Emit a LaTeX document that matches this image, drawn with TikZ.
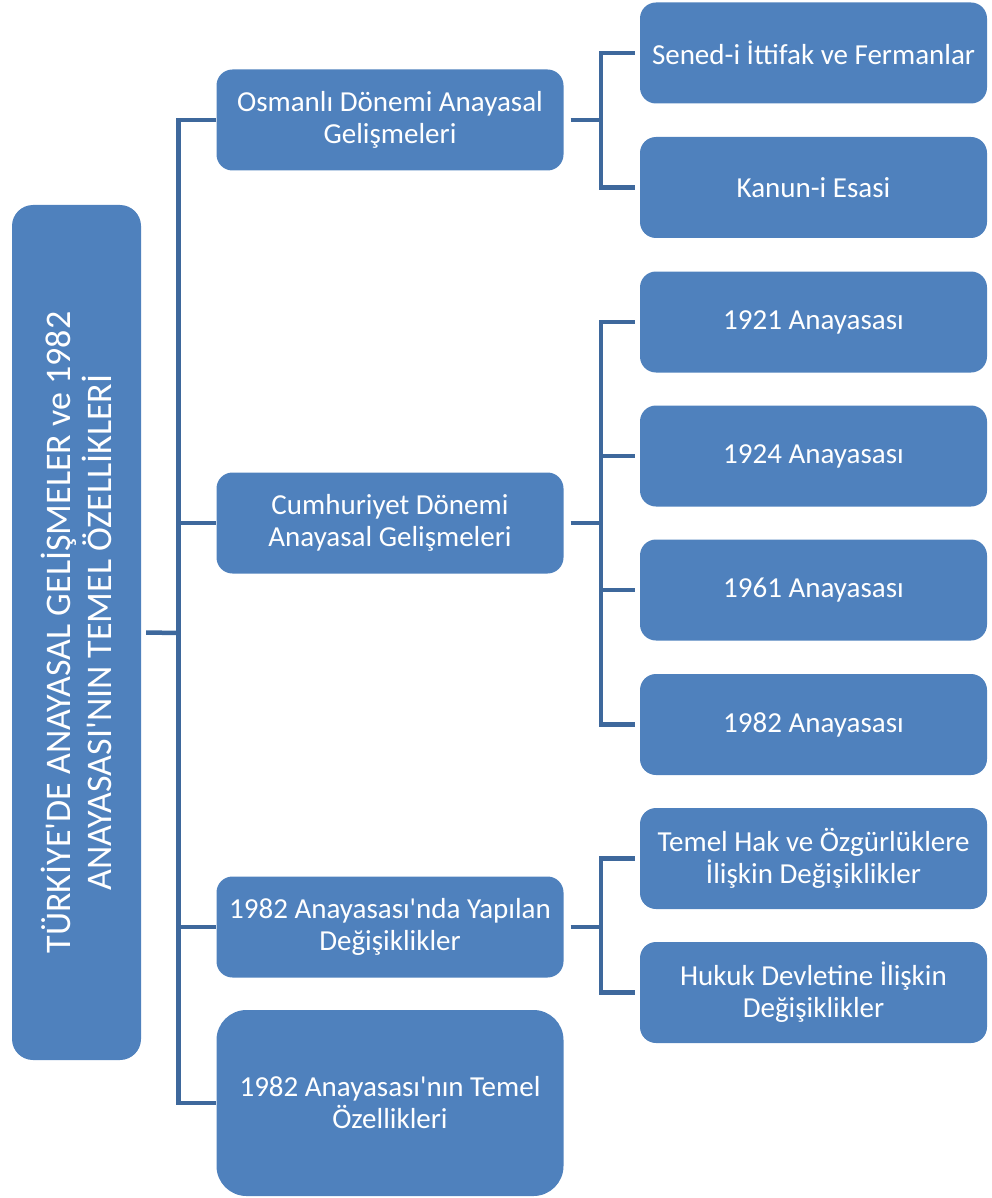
\documentclass[tikz,border=0pt]{standalone}
\usepackage{fontspec}
\setmainfont{Carlito}
\definecolor{boxblue}{RGB}{79,129,189}
\definecolor{linkblue}{RGB}{62,104,156}
\begin{document}
\begin{tikzpicture}[x=1pt,y=-1pt,
  box/.style={draw=none,fill=boxblue,text=white,align=center,inner sep=0pt,
    minimum width=347pt,minimum height=101pt,rounded corners=16pt,
    font=\fontsize{29}{32}\selectfont},
  conn/.style={draw=linkblue,line width=4.5pt,line join=miter}]
\useasboundingbox (0,0) rectangle (991,1198);
% root
\node[box,rotate=90,minimum width=855pt,minimum height=129pt,rounded corners=21pt,
  font=\fontsize{36}{41}\selectfont] (root) at (76.5,632.5)
  {TÜRKİYE\textquotesingle DE ANAYASAL GELİŞMELER ve 1982\\ANAYASASI\textquotesingle NIN TEMEL ÖZELLİKLERİ};
% level 1
\node[box] (l1) at (390,120) {Osmanlı Dönemi Anayasal\\Gelişmeleri};
\node[box] (l2) at (390,523) {Cumhuriyet Dönemi\\Anayasal Gelişmeleri};
\node[box] (l3) at (390,927) {1982 Anayasası\textquotesingle nda Yapılan\\Değişiklikler};
\node[box,minimum height=186pt,rounded corners=30pt] (l4) at (390,1103) {1982 Anayasası\textquotesingle nın Temel\\Özellikleri};
% level 2
\node[box] (c1) at (813.5,53) {Sened-i İttifak ve Fermanlar};
\node[box] (c2) at (813.5,187.5) {Kanun-i Esasi};
\node[box] (c3) at (813.5,322) {1921 Anayasası};
\node[box] (c4) at (813.5,456) {1924 Anayasası};
\node[box] (c5) at (813.5,590) {1961 Anayasası};
\node[box] (c6) at (813.5,724.5) {1982 Anayasası};
\node[box] (c7) at (813.5,858.5) {Temel Hak ve Özgürlüklere\\İlişkin Değişiklikler};
\node[box] (c8) at (813.5,992.5) {Hukuk Devletine İlişkin\\Değişiklikler};
% trunk connectors
\coordinate (trunk) at (178.5,633);
\coordinate (bx) at (601,0);
\draw[conn] ([xshift=5pt]root.south) -- (trunk);
\draw[conn] (l1.west) -- (l1.west -| trunk) -- (l4.west -| trunk) -- (l4.west);
\draw[conn] (l2.west -| trunk) -- (l2.west);
\draw[conn] (l3.west -| trunk) -- (l3.west);
% branch: l1
\draw[conn] ([xshift=-5pt]c1.west) -- (c1.west -| bx) -- (c2.west -| bx) -- ([xshift=-5pt]c2.west);
\draw[conn] ([xshift=7pt]l1.east) -- (l1.east -| bx);
% branch: l2
\draw[conn] ([xshift=-5pt]c3.west) -- (c3.west -| bx) -- (c6.west -| bx) -- ([xshift=-5pt]c6.west);
\draw[conn] ([xshift=-5pt]c4.west) -- (c4.west -| bx);
\draw[conn] ([xshift=-5pt]c5.west) -- (c5.west -| bx);
\draw[conn] ([xshift=7pt]l2.east) -- (l2.east -| bx);
% branch: l3
\draw[conn] ([xshift=-5pt]c7.west) -- (c7.west -| bx) -- (c8.west -| bx) -- ([xshift=-5pt]c8.west);
\draw[conn] ([xshift=7pt]l3.east) -- (l3.east -| bx);
\end{tikzpicture}
\end{document}
